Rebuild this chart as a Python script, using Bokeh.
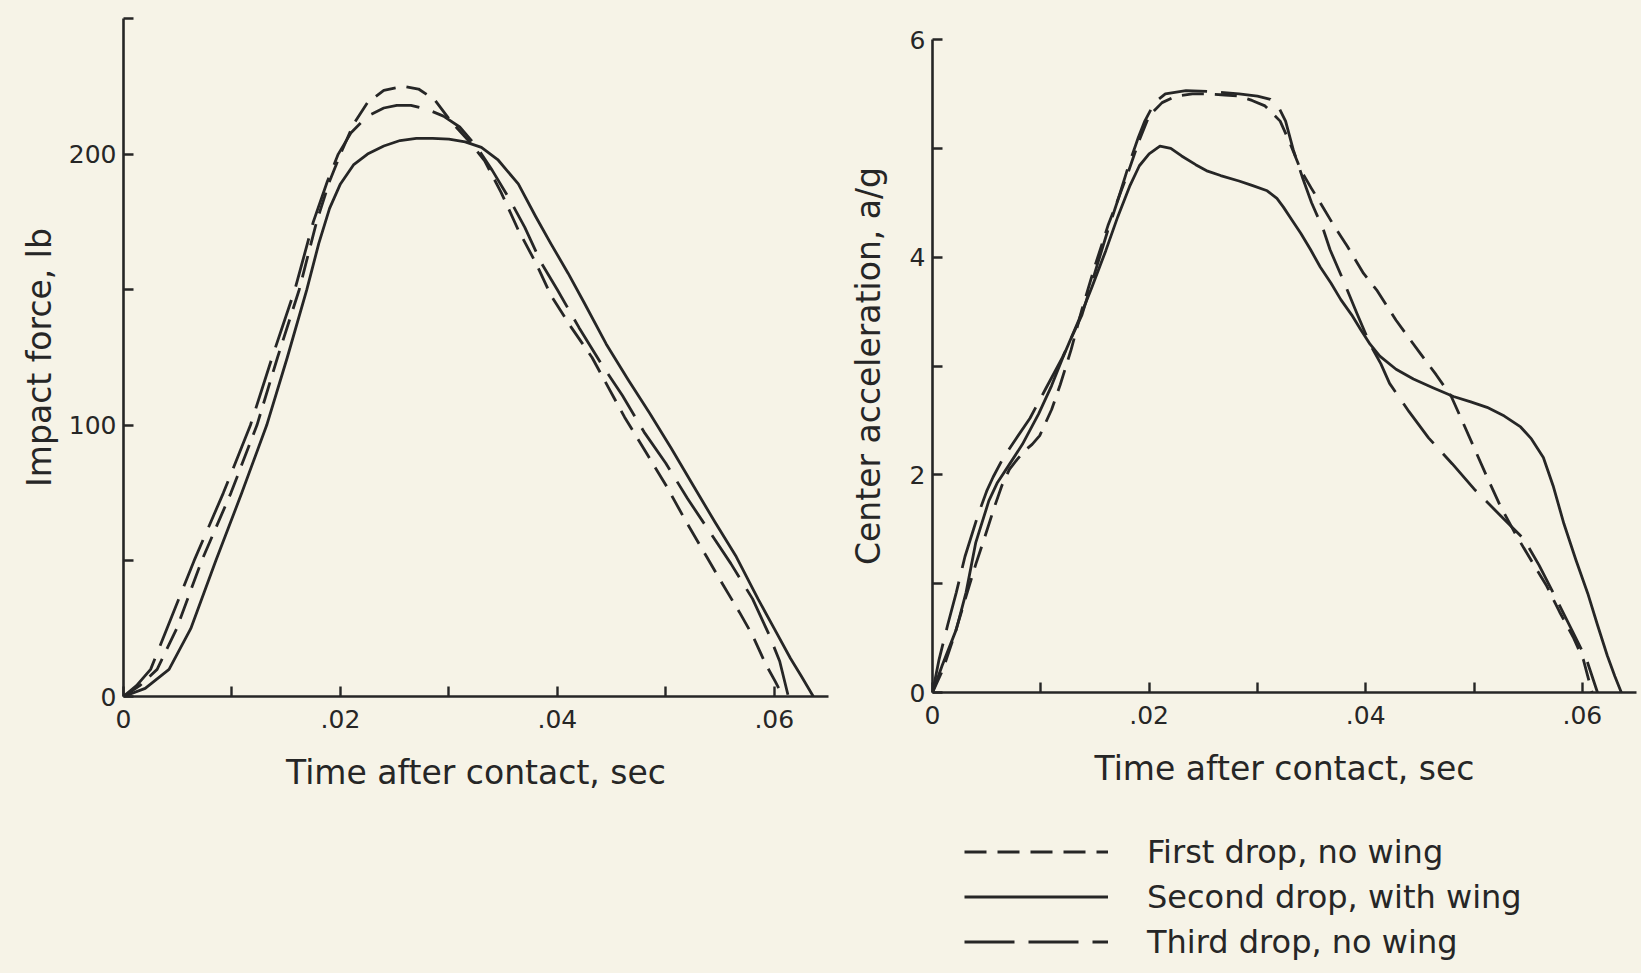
from bokeh.plotting import figure
from bokeh.layouts import row, column
from bokeh.models import FixedTicker, Legend, LegendItem, Range1d
from bokeh.embed import file_html
from bokeh.resources import INLINE

BG = "#f6f3e7"
INK = "#262626"
FONT = "DejaVu Sans"

# ---------------- data: left panel (impact force, lb) ----------------
force_first_t = [0, .0015, .0031, .0049, .0072, .0099, .0123, .0142, .0162, .0178, .0190,
                 .0200, .0212, .0225, .0240, .0258, .0272, .0287, .0302, .0318, .0333,
                 .0348, .0364, .0380, .0394, .0413, .0432, .0447, .0462, .0481, .0500,
                 .0518, .0537, .0553, .0568, .0580, .0592, .0601, .0608]
force_first = [0, 4, 10, 25, 50, 75, 100, 125, 150, 175, 190,
               200, 211, 219, 223.5, 225, 224, 220, 212, 205, 197.5,
               186, 172, 160, 148, 136, 125, 114, 103, 90.5, 78,
               65, 52, 41, 31, 22.5, 12, 5.5, 0]

force_second_t = [0, .0020, .0042, .0062, .0085, .0109, .0132, .0151, .0169, .0180, .0190,
                  .0200, .0212, .0225, .0240, .0255, .0270, .0285, .0300, .0315, .0330,
                  .0345, .0364, .0380, .0394, .0410, .0425, .0445, .0465, .0485, .0505,
                  .0525, .0545, .0565, .0585, .0600, .0615, .0625, .0636]
force_second = [0, 3, 10, 25, 50, 75, 100, 125, 150, 167, 180,
                189, 196, 200, 203, 205, 205.8, 205.8, 205.5, 204.5, 202.5,
                198, 189, 177, 167, 156, 145, 130, 117, 104.5, 91.5,
                78, 64.5, 51.5, 36, 25, 14, 7.5, 0]

force_third_t = [0, .0012, .0025, .0040, .0065, .0092, .0117, .0137, .0158, .0175, .0188,
                 .0198, .0210, .0225, .0240, .0252, .0265, .0280, .0295, .0310, .0325,
                 .0340, .0355, .0370, .0385, .0400, .0420, .0440, .0460, .0480, .0500,
                 .0520, .0540, .0560, .0580, .0595, .0605, .0613]
force_third = [0, 4, 10, 25, 50, 75, 100, 125, 150, 175, 190,
               200, 208, 214, 217, 218, 218, 216.5, 214, 210, 203,
               194, 184, 173, 160, 150, 136, 123, 111, 97.5, 86,
               73, 61, 49, 36, 23, 13, 0]

# ---------------- data: right panel (center acceleration, a/g) ----------------
acc_first_t = [0, .0010, .0020, .0030, .0040, .0048, .0057, .0064, .0071, .0078, .0085,
               .0092, .0099, .0110, .0118, .0128, .0138, .0150, .0162, .0172, .0181,
               .0190, .0200, .0212, .0225, .0240, .0254, .0270, .0283, .0295, .0307,
               .0321, .0330, .0340, .0350, .0358, .0370, .0383, .0398, .0410, .0428,
               .0450, .0465, .0479, .0488, .0500, .0512, .0524, .0538, .0553, .0567,
               .0579, .0592, .0601, .0609]
acc_first = [0, .22, .52, .85, 1.18, 1.42, 1.70, 1.90, 2.05, 2.14, 2.22,
             2.28, 2.36, 2.60, 2.83, 3.15, 3.52, 3.92, 4.29, 4.55, 4.79,
             5.05, 5.30, 5.42, 5.48, 5.50, 5.50, 5.49, 5.48, 5.44, 5.39,
             5.25, 5.05, 4.80, 4.63, 4.50, 4.30, 4.10, 3.85, 3.70, 3.42,
             3.12, 2.92, 2.72, 2.52, 2.25, 1.98, 1.72, 1.46, 1.21, .98,
             .74, .50, .30, 0]

acc_second_t = [0, .0009, .0022, .0031, .0040, .0052, .0060, .0068, .0083, .0098, .0110,
                .0120, .0135, .0147, .0160, .0171, .0182, .0191, .0200, .0210, .0220,
                .0230, .0243, .0254, .0266, .0283, .0295, .0309, .0318, .0324, .0332,
                .0340, .0349, .0358, .0368, .0377, .0387, .0395, .0404, .0413, .0428,
                .0444, .0462, .0481, .0497, .0512, .0528, .0543, .0553, .0564, .0573,
                .0583, .0594, .0605, .0614, .0623, .0630, .0636]
acc_second = [0, .25, .58, .92, 1.38, 1.76, 1.93, 2.05, 2.28, 2.56, 2.82,
              3.07, 3.42, 3.72, 4.06, 4.37, 4.65, 4.84, 4.95, 5.02, 5.00,
              4.93, 4.85, 4.79, 4.75, 4.70, 4.66, 4.61, 4.54, 4.46, 4.34,
              4.22, 4.07, 3.91, 3.76, 3.61, 3.47, 3.34, 3.20, 3.09, 2.97,
              2.88, 2.80, 2.72, 2.67, 2.62, 2.54, 2.44, 2.33, 2.16, 1.90,
              1.55, 1.22, .91, .62, .34, .15, 0]

acc_third_t = [0, .0006, .0014, .0022, .0030, .0042, .0050, .0056, .0065, .0077, .0090,
               .0105, .0120, .0138, .0150, .0162, .0172, .0181, .0190, .0196, .0205,
               .0215, .0234, .0260, .0283, .0300, .0312, .0320, .0326, .0333, .0342,
               .0350, .0361, .0367, .0380, .0392, .0404, .0414, .0422, .0440, .0458,
               .0480, .0501, .0525, .0546, .0560, .0575, .0590, .0604, .0614]
acc_third = [0, .30, .62, .92, 1.25, 1.63, 1.85, 1.98, 2.15, 2.33, 2.52,
             2.80, 3.08, 3.47, 3.86, 4.25, 4.55, 4.84, 5.10, 5.25, 5.42,
             5.50, 5.53, 5.52, 5.50, 5.48, 5.45, 5.37, 5.25, 4.99, 4.72,
             4.50, 4.25, 4.07, 3.77, 3.48, 3.20, 3.02, 2.84, 2.58, 2.34,
             2.10, 1.86, 1.62, 1.41, 1.17, .88, .58, .30, 0]

# ticks and labels
x_major = [0, .02, .04, .06]
x_minor = [.01, .03, .05]
x_labels = {0: "0", .02: ".02", .04: ".04", .06: ".06"}
force_major = [0, 100, 200]
force_minor = [50, 150, 250]
acc_major = [0, 2, 4, 6]
acc_minor = [1, 3, 5]

series_names = ["First drop, no wing", "Second drop, with wing", "Third drop, no wing"]
dashes = ["22 11", "solid", "50 14"]

X_TITLE = "Time after contact, sec"
LW = 2.8


def style_axes(p, y_major, y_minor, x_title, y_title):
    p.xaxis.ticker = FixedTicker(ticks=x_major, minor_ticks=x_minor)
    p.xaxis.major_label_overrides = x_labels
    p.yaxis.ticker = FixedTicker(ticks=y_major, minor_ticks=y_minor)
    for ax in (p.xaxis[0], p.yaxis[0]):
        ax.axis_line_color = INK
        ax.axis_line_width = 2.6
        ax.major_tick_line_color = INK
        ax.minor_tick_line_color = INK
        ax.major_tick_line_width = 2.4
        ax.minor_tick_line_width = 2.4
        ax.major_tick_in = 10
        ax.major_tick_out = 0
        ax.minor_tick_in = 10
        ax.minor_tick_out = 0
        ax.major_label_text_font = FONT
        ax.major_label_text_font_size = "25px"
        ax.major_label_text_color = INK
        ax.axis_label_text_font = FONT
        ax.axis_label_text_font_size = "33px"
        ax.axis_label_text_font_style = "normal"
        ax.axis_label_text_color = INK
    p.xaxis.axis_label = x_title
    p.yaxis.axis_label = y_title
    p.xaxis.major_label_standoff = 13
    p.xaxis.axis_label_standoff = 22
    p.yaxis.major_label_standoff = 7
    p.grid.visible = False
    p.outline_line_color = None
    p.background_fill_color = BG
    p.border_fill_color = BG


# ---------------- left figure ----------------
p1 = figure(width=845, height=973, output_backend="svg", toolbar_location=None,
            x_range=Range1d(0, 0.065), y_range=Range1d(0, 250),
            min_border_left=123, min_border_right=17, min_border_top=18, min_border_bottom=277)
style_axes(p1, force_major, force_minor, X_TITLE, "Impact force, lb")
p1.yaxis.axis_label_standoff = 7
for xs, ys, d in zip([force_first_t, force_second_t, force_third_t],
                     [force_first, force_second, force_third], dashes):
    p1.line(xs, ys, line_color=INK, line_width=LW, line_dash=d, line_join="round")

# ---------------- right figure ----------------
p2 = figure(width=796, height=800, output_backend="svg", toolbar_location=None,
            x_range=Range1d(0, 0.065), y_range=Range1d(0, 6),
            min_border_left=86, min_border_right=5, min_border_top=39, min_border_bottom=108)
style_axes(p2, acc_major, acc_minor, X_TITLE, "Center acceleration, a/g")
p2.yaxis.axis_label_standoff = 19
acc_series = list(zip([acc_first_t, acc_second_t, acc_third_t],
                      [acc_first, acc_second, acc_third], dashes))
for xs, ys, d in acc_series:
    p2.line(xs, ys, line_color=INK, line_width=LW, line_dash=d, line_join="round")

# ---------------- legend block under the right panel ----------------
# key renderers reuse the same series, kept outside this block's view so only the legend keys show
p3 = figure(width=796, height=173, output_backend="svg", toolbar_location=None,
            x_axis_type=None, y_axis_type=None, x_range=Range1d(1, 2), y_range=Range1d(1, 2),
            min_border=0)
p3.grid.visible = False
p3.outline_line_color = None
p3.background_fill_color = BG
p3.border_fill_color = BG
keys = [p3.line(xs, ys, line_color=INK, line_width=LW, line_dash=d) for xs, ys, d in acc_series]
legend = Legend(items=[LegendItem(label=n, renderers=[r]) for n, r in zip(series_names, keys)],
                location=(32, 11), orientation="vertical",
                glyph_width=144, glyph_height=41, spacing=4, label_standoff=39,
                padding=0, margin=0, border_line_alpha=0, background_fill_alpha=0,
                label_text_font=FONT, label_text_font_size="32px", label_text_color=INK)
p3.add_layout(legend)

layout = row(p1, column(p2, p3))
html = file_html(layout, INLINE)
html = html.replace("</head>", "<style>body{background-color:%s;}</style></head>" % BG, 1)
open("out.html", "w").write(html)
